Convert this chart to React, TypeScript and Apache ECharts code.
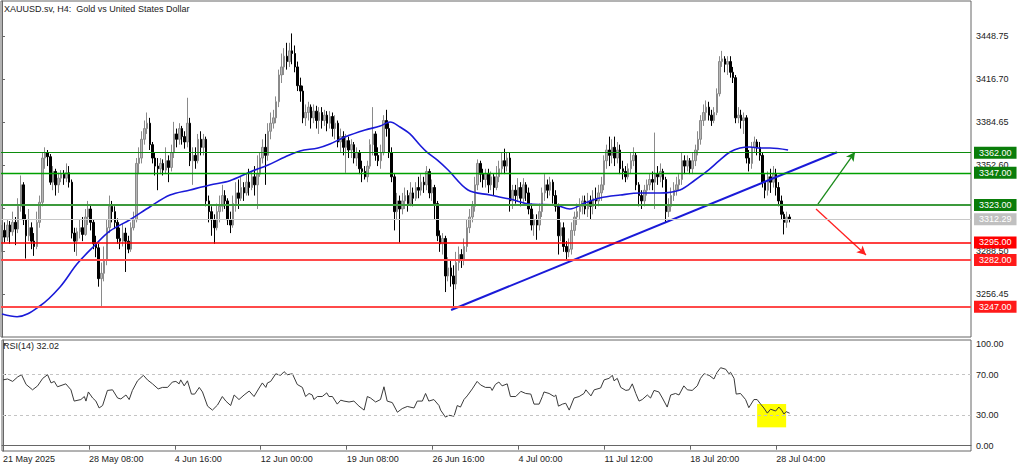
import React, { useEffect, useRef } from 'react';
import * as echarts from 'echarts';

// [open, close, low, high] per H4 bar, bar index = position
const ohlc: number[][] = [
[3300,3304,3288,3308],[3304,3299,3295,3310],[3299,3308,3296,3312],[3308,3303,3294,3311],[3303,3310,3300,3318],[3310,3305,3293,3314],[3305,3322,3302,3328],[3322,3338,3318,3345],
[3338,3312,3308,3340],[3312,3300,3283,3316],[3300,3306,3296,3320],[3306,3296,3290,3310],[3296,3292,3285,3302],[3292,3310,3290,3318],[3310,3325,3306,3330],[3325,3358,3322,3362],
[3358,3362,3350,3366],[3362,3359,3352,3364],[3359,3340,3338,3361],[3340,3348,3334,3352],[3348,3338,3330,3350],[3338,3343,3332,3347],[3343,3346,3340,3349],[3346,3343,3338,3349],
[3343,3347,3340,3354],[3347,3340,3336,3352],[3340,3302,3298,3342],[3302,3296,3288,3306],[3296,3303,3285,3306],[3303,3306,3298,3312],[3306,3301,3296,3314],[3301,3314,3300,3320],
[3314,3320,3308,3326],[3320,3310,3304,3323],[3310,3294,3290,3312],[3294,3291,3284,3300],[3291,3268,3262,3294],[3268,3272,3247,3280],[3272,3282,3266,3292],[3282,3306,3278,3312],
[3306,3322,3302,3330],[3322,3318,3310,3326],[3318,3310,3305,3322],[3310,3298,3294,3313],[3298,3296,3290,3306],[3296,3302,3292,3309],[3302,3296,3273,3306],[3296,3290,3287,3300],
[3290,3306,3288,3310],[3306,3312,3304,3318],[3312,3354,3310,3358],[3354,3358,3346,3366],[3358,3372,3354,3378],[3372,3380,3368,3386],[3380,3384,3376,3392],[3384,3368,3364,3388],
[3368,3358,3354,3370],[3358,3352,3345,3362],[3352,3350,3334,3358],[3350,3354,3346,3358],[3354,3349,3345,3357],[3349,3356,3346,3366],[3356,3351,3340,3360],[3351,3362,3348,3368],
[3362,3376,3358,3385],[3376,3372,3366,3380],[3372,3380,3368,3384],[3380,3374,3368,3382],[3374,3370,3365,3378],[3370,3384,3366,3403],[3384,3356,3352,3388],[3356,3360,3338,3366],
[3360,3356,3350,3366],[3356,3372,3354,3376],[3372,3366,3360,3378],[3366,3372,3360,3376],[3372,3326,3322,3374],[3326,3318,3310,3330],[3318,3312,3300,3322],[3312,3306,3294,3316],
[3306,3318,3304,3324],[3318,3322,3310,3330],[3322,3330,3318,3338],[3330,3326,3320,3334],[3326,3312,3308,3328],[3312,3308,3302,3318],[3308,3324,3306,3330],[3324,3332,3318,3340],
[3332,3328,3320,3342],[3328,3336,3326,3344],[3336,3332,3326,3340],[3332,3340,3330,3346],[3340,3336,3330,3350],[3336,3344,3334,3348],[3344,3338,3330,3352],[3338,3346,3320,3360],
[3346,3358,3344,3362],[3358,3366,3354,3372],[3366,3360,3338,3376],[3360,3378,3356,3384],[3378,3384,3372,3392],[3384,3388,3380,3394],[3388,3400,3384,3404],[3400,3420,3396,3424],
[3420,3426,3414,3436],[3426,3434,3420,3440],[3434,3430,3424,3444],[3430,3438,3426,3444],[3438,3436,3428,3451],[3436,3426,3422,3442],[3426,3412,3408,3430],[3412,3408,3400,3418],
[3408,3388,3384,3412],[3388,3392,3382,3398],[3392,3396,3386,3400],[3396,3388,3380,3398],[3388,3393,3384,3398],[3393,3386,3380,3397],[3386,3392,3376,3396],[3392,3386,3380,3396],
[3386,3390,3382,3394],[3390,3384,3378,3393],[3384,3389,3380,3393],[3389,3380,3374,3392],[3380,3384,3372,3390],[3384,3370,3366,3386],[3370,3374,3362,3380],[3374,3366,3360,3378],
[3366,3371,3347,3376],[3371,3364,3358,3374],[3364,3368,3358,3372],[3368,3358,3354,3370],[3358,3362,3352,3366],[3362,3350,3346,3364],[3350,3348,3340,3356],[3348,3344,3342,3352],
[3344,3352,3340,3356],[3352,3368,3350,3372],[3368,3376,3360,3396],[3376,3360,3356,3378],[3360,3356,3352,3366],[3356,3362,3350,3368],[3362,3386,3360,3390],[3386,3380,3374,3394],
[3380,3362,3358,3384],[3362,3344,3340,3366],[3344,3318,3304,3346],[3318,3326,3312,3332],[3326,3320,3295,3330],[3320,3326,3316,3332],[3326,3330,3320,3336],[3330,3324,3318,3334],
[3324,3332,3322,3340],[3332,3328,3322,3336],[3328,3336,3326,3340],[3336,3334,3328,3344],[3334,3340,3330,3346],[3340,3338,3332,3344],[3338,3348,3334,3352],[3348,3332,3328,3350],
[3332,3336,3326,3342],[3336,3324,3312,3338],[3324,3300,3296,3326],[3300,3294,3288,3304],[3294,3298,3286,3302],[3298,3270,3258,3300],[3270,3276,3266,3284],[3276,3270,3262,3282],
[3270,3264,3246,3278],[3264,3280,3260,3288],[3280,3286,3274,3292],[3286,3282,3276,3290],[3282,3292,3278,3298],[3292,3306,3288,3312],[3306,3314,3302,3320],[3314,3322,3310,3326],
[3322,3338,3318,3344],[3338,3354,3334,3357],[3354,3346,3340,3356],[3346,3342,3336,3350],[3342,3346,3336,3350],[3346,3338,3332,3350],[3338,3344,3334,3348],[3344,3336,3330,3346],
[3336,3344,3334,3352],[3344,3350,3340,3356],[3350,3356,3346,3362],[3356,3352,3346,3365],[3352,3358,3348,3362],[3358,3326,3318,3362],[3326,3334,3320,3338],[3334,3330,3324,3338],
[3330,3336,3326,3343],[3336,3328,3322,3340],[3328,3338,3324,3343],[3338,3332,3326,3340],[3332,3320,3316,3336],[3320,3308,3304,3324],[3308,3312,3300,3316],[3312,3308,3297,3316],
[3308,3318,3304,3324],[3318,3332,3314,3336],[3332,3338,3326,3346],[3338,3334,3328,3342],[3334,3340,3330,3344],[3340,3330,3324,3342],[3330,3322,3318,3334],[3322,3300,3286,3324],
[3300,3306,3296,3310],[3306,3292,3288,3310],[3292,3288,3282,3296],[3288,3290,3284,3298],[3290,3304,3286,3310],[3304,3314,3300,3318],[3314,3318,3308,3324],[3318,3322,3312,3328],
[3322,3326,3316,3330],[3326,3320,3316,3330],[3320,3326,3314,3332],[3326,3322,3312,3330],[3322,3328,3316,3334],[3328,3326,3320,3336],[3326,3332,3322,3338],[3332,3338,3326,3344],
[3338,3356,3334,3360],[3356,3364,3350,3368],[3364,3360,3352,3374],[3360,3366,3354,3372],[3366,3358,3352,3374],[3358,3364,3354,3370],[3364,3350,3346,3368],[3350,3348,3342,3356],
[3348,3344,3340,3352],[3344,3350,3342,3354],[3350,3356,3346,3362],[3356,3360,3352,3366],[3360,3338,3334,3362],[3338,3330,3322,3340],[3330,3326,3320,3334],[3326,3334,3322,3338],
[3334,3338,3330,3342],[3338,3342,3334,3346],[3342,3340,3334,3348],[3340,3346,3320,3377],[3346,3344,3338,3352],[3344,3348,3340,3354],[3348,3342,3336,3350],[3342,3318,3310,3344],
[3318,3322,3314,3328],[3322,3330,3318,3336],[3330,3334,3326,3340],[3334,3338,3330,3344],[3338,3342,3334,3346],[3342,3356,3338,3362],[3356,3352,3346,3360],[3352,3356,3348,3360],
[3356,3350,3346,3358],[3350,3356,3346,3362],[3356,3364,3352,3368],[3364,3372,3360,3378],[3372,3386,3368,3390],[3386,3392,3382,3398],[3392,3396,3386,3401],[3396,3390,3386,3400],
[3390,3386,3382,3394],[3386,3392,3384,3396],[3392,3406,3390,3410],[3406,3430,3404,3434],[3430,3432,3426,3438],[3432,3428,3422,3434],[3428,3430,3420,3434],[3430,3422,3418,3434],
[3422,3418,3414,3426],[3418,3388,3384,3420],[3388,3390,3384,3396],[3390,3386,3380,3394],[3386,3388,3376,3392],[3388,3358,3354,3390],[3358,3354,3348,3364],[3354,3366,3350,3370],
[3366,3370,3362,3374],[3370,3366,3360,3372],[3366,3360,3356,3370],[3360,3340,3336,3362],[3340,3334,3328,3346],[3334,3344,3330,3348],[3344,3340,3332,3350],[3340,3346,3336,3352],
[3346,3336,3330,3350],[3336,3326,3322,3340],[3326,3316,3312,3330],[3316,3310,3301,3318],[3310,3314,3306,3318],[3314,3312.29,3310,3316]
];

// moving average read at points: [bar index, price]
const maPoints: number[][] = [
[0,3241.6],[5.6,3239.6],[14.1,3247.6],[21.6,3261.8],[27.9,3278.9],[33.9,3291.6],[40.2,3303.6],[47.6,3312],
[55.1,3321.7],[62.5,3330.4],[70,3334.2],[77.4,3337.9],[84.8,3341.1],[92.3,3347.6],[99,3352.8],[105.3,3358.8],
[110.9,3363.3],[117.6,3365.5],[122,3368.5],[127.6,3373.7],[135.1,3378.9],[140.7,3381.9],[144.4,3384.9],[148.1,3381.2],
[151.8,3376],[155.5,3367.7],[158.1,3362.5],[161.9,3356.6],[166,3349.1],[173.4,3334.2],[181.6,3330.4],[189,3327.4],
[196.5,3323.7],[205.8,3323],[211.3,3320],[216.9,3324.5],[222.5,3328.2],[230,3330.4],[237.4,3331.9],[244.8,3331.9],
[252.3,3334.2],[257.9,3341.6],[262,3347.6],[267.2,3356.6],[270.9,3362.5],[274.6,3365.5],[278.3,3366.3],[282,3365.5],
[285.8,3365.5],[292.5,3364]
];

// RSI(14) read at points: [bar index, value]
const rsiPoints: number[][] = [
[0,64.9],[1.7,65.8],[3.6,63.4],[5.5,67.9],[6.9,70],[8.6,60.4],[11,55.1],[12.9,59],[14.8,66.4],[16.6,70],[17.9,61.9],[19.1,63.4],
[20.3,58.1],[23.4,61],[25.3,55.1],[26.5,44],[29,45.5],[30.3,48.5],[30.9,44],[31.8,53],[33.4,47],[34.6,44],[35.8,37.2],[37.1,39.6],
[38.9,54.5],[40.8,55.1],[42.7,47],[43.9,46.1],[45.8,50],[47,45.5],[48.2,54.5],[50.1,64],[52.3,69.4],[53.8,64.9],[55.7,61],[57.8,56],
[59.4,57.5],[61.3,57.5],[63.1,62.8],[64.4,63.4],[65.6,61],[66.2,64.9],[67.5,59],[68.7,64],[70.2,50.9],[71.4,50.9],[73.1,57.5],[74.3,53],
[76.2,39],[78,35.1],[79.9,40.1],[81.7,48.5],[83,44],[84.8,39.6],[86.1,50],[87.9,45.5],[89.8,50],[91.7,53.9],[93.5,48.5],[95.4,56.9],
[96.6,61.9],[97.9,57.5],[98.5,61.9],[99.7,63.4],[101.6,70.9],[103.4,69.4],[104.7,73],[105.9,70],[107.8,70.9],[109.6,60.4],[111.5,57.5],[112.7,48.5],
[114,51.5],[115.2,50],[115.8,45.5],[117.1,48.5],[118.9,48.5],[120.6,52.1],[121.4,48.5],[122.7,48.5],[124.5,41],[125.8,44.9],[127,44],[128.9,43.1],
[130.7,44],[132.6,39],[134.5,35.1],[135.7,48.5],[136.9,47],[138.8,43.1],[140.6,45.5],[141.9,58.1],[143.1,44],[145,42.5],[146.9,33],[148.7,36.6],
[150.6,38.7],[153.1,37.2],[154.3,44],[156.2,44],[157.4,51.5],[158.6,44],[160.5,45.5],[162.4,39.6],[163,35.1],[164.8,28.2],[166.1,30],[168,29.1],
[169.2,39.6],[170.4,38.1],[171.7,45.5],[172.9,49.1],[174.8,56],[176.6,63.4],[177.9,59.9],[179.7,57.5],[181.6,57.5],[182.2,54.5],[183.4,60.4],[184.7,62.8],
[185.9,59],[187.8,61],[189,48.5],[191,48.5],[192.9,53.6],[194.7,51.5],[196.6,50.9],[197.8,41],[199.7,41],[200.9,48.5],[201.5,53],[203.4,51.5],
[205.3,48.5],[205.9,50],[206.9,39],[208.4,41],[209.6,41.9],[210.9,35.1],[212.7,47],[214.6,48.5],[216.4,51.5],[217.1,55.1],[219,49.1],[220.2,55.1],
[222.6,56.9],[223.9,64.9],[225.7,66.4],[227,69.4],[227.6,64],[228.8,66.4],[230.1,57.5],[232,54.5],[233.2,55.1],[234.4,61],[235.7,51.5],[236.9,44],
[238.1,45.5],[240,50],[241.2,47],[242.5,54.5],[244.3,53],[245.6,47],[247.4,38.1],[248.7,50],[250.5,51.5],[251.8,50],[253.6,59],[254.9,55.1],
[256.7,54.5],[258.6,59],[259.8,66.4],[261.1,70.9],[263,69.4],[264.8,65.8],[266,72.4],[267.3,76.9],[269.2,75.4],[270.4,70.9],[271,72.4],[272.3,66.4],
[273.1,50.9],[274.7,51.5],[276.6,45.5],[277.8,37.5],[279.7,45.5],[280.9,45.5],[282.2,41],[283.4,37.2],[284.7,32.1],[285.9,36],[287.8,34.2],[289,38.1],
[290,35.1],[290.9,31.2],[291.7,33.6],[293,32.02]
];

const resistanceLevels = [3362, 3347, 3323];
const supportLevels = [3295, 3282, 3247];
const lastPrice = 3312.29;
const priceTicks = [3256.45, 3288.5, 3320.55, 3352.6, 3384.65, 3416.7, 3448.75];
const rsiTicks = [0, 30, 70, 100];
const rsiLevels = [30, 70];
const rsiLast = 32.02;
const timeTickBars = [0, 32, 64, 96, 128, 160, 192, 224, 256, 288];
const timeTickLabels = ['21 May 2025', '28 May 08:00', '4 Jun 16:00', '12 Jun 00:00', '19 Jun 08:00', '26 Jun 16:00', '4 Jul 00:00', '11 Jul 12:00', '18 Jul 20:00', '28 Jul 04:00'];
const trendline = [[167.1, 3244.6], [310.7, 3362.3]];
const upArrow = [[303.6, 3323.7], [317.4, 3362.5]];
const downArrow = [[302.9, 3320.0], [321.5, 3285.7]];
const rsiHighlight = [[280.9, 41.1], [291.7, 18.1]];

const FONT = 'Liberation Sans';
const FS = 9;

function levelLine(v: number, color: string, width: number, box: string) {
  return {
    yAxis: v,
    lineStyle: { color, width, type: 'solid', opacity: 1 },
    label: {
      show: true,
      position: 'end',
      distance: 3,
      formatter: () => v.toFixed(2),
      color: '#fff',
      backgroundColor: box,
      padding: [2, 5, 1, 5],
      fontSize: FS,
      fontFamily: FONT,
    },
  };
}

export default function App() {
  const ref = useRef<HTMLDivElement>(null);
  useEffect(() => {
    if (!ref.current) return;
    const chart = echarts.init(ref.current, null, { renderer: 'svg' });
    const xMin = -0.372;
    const xMax = 360.56;
    const candleData = ohlc.map((d, i) => [i, d[0], d[1], d[2], d[3]]);
    const levels = [
      levelLine(resistanceLevels[0], '#0c8c0c', 1, '#0a7d0a'),
      levelLine(resistanceLevels[1], '#00a000', 1.4, '#0a7d0a'),
      levelLine(resistanceLevels[2], '#3c9a3c', 2, '#0a7d0a'),
      levelLine(lastPrice, '#c8c8c8', 1, '#c0c0c0'),
      levelLine(supportLevels[0], '#ff0000', 1.5, '#ff0000'),
      levelLine(supportLevels[1], '#ff4a4a', 2, '#ff1a1a'),
      levelLine(supportLevels[2], '#ff4a4a', 2, '#ff1a1a'),
    ];
    const option: any = {
      animation: false,
      backgroundColor: '#ffffff',
      title: [
        {
          text: 'XAUUSD.sv, H4:  Gold vs United States Dollar',
          left: 4, top: 4, padding: 0,
          textStyle: { fontSize: FS, fontWeight: 'normal', color: '#222', fontFamily: FONT },
        },
        {
          text: 'RSI(14) ' + rsiLast.toFixed(2),
          left: 3, top: 341, padding: 0,
          textStyle: { fontSize: FS, fontWeight: 'normal', color: '#222', fontFamily: FONT },
        },
      ],
      grid: [
        { left: 1, right: 53, top: 1, height: 336, show: true, borderColor: '#666', borderWidth: 1, backgroundColor: 'transparent' },
        { left: 1, right: 53, top: 340, height: 111, show: true, borderColor: '#666', borderWidth: 1, backgroundColor: 'transparent' },
      ],
      xAxis: [
        {
          type: 'value', gridIndex: 0, min: xMin, max: xMax,
          axisLine: { show: false }, axisTick: { show: false }, axisLabel: { show: false }, splitLine: { show: false },
        },
        {
          type: 'value', gridIndex: 1, min: xMin, max: xMax,
          axisLine: { show: true, lineStyle: { color: '#666' } },
          axisTick: { show: true, customValues: timeTickBars, length: 4, lineStyle: { color: '#666' } },
          axisLabel: {
            show: true,
            customValues: timeTickBars,
            formatter: (v: number) => {
              const k = timeTickBars.indexOf(Math.round(v));
              return k >= 0 ? timeTickLabels[k] : '';
            },
            align: 'left',
            margin: 3,
            color: '#222', fontSize: FS, fontFamily: FONT,
          },
          splitLine: { show: false },
        },
      ],
      yAxis: [
        {
          type: 'value', gridIndex: 0, position: 'right', min: 3224.46, max: 3475.2, scale: true,
          axisLine: { show: true, lineStyle: { color: '#666' } },
          axisTick: { show: true, customValues: priceTicks, length: 3, lineStyle: { color: '#666' } },
          axisLabel: {
            show: true, customValues: priceTicks, margin: 5,
            formatter: (v: number) => v.toFixed(2),
            color: '#222', fontSize: FS, fontFamily: FONT,
          },
          splitLine: { show: false },
        },
        {
          type: 'value', gridIndex: 1, position: 'right', min: -5.23, max: 104.24,
          axisLine: { show: true, lineStyle: { color: '#666' } },
          axisTick: { show: true, customValues: rsiTicks, length: 3, lineStyle: { color: '#666' } },
          axisLabel: {
            show: true, customValues: rsiTicks, margin: 5,
            formatter: (v: number) => v.toFixed(2),
            color: '#222', fontSize: FS, fontFamily: FONT,
          },
          splitLine: { show: false },
        },
      ],
      series: [
        {
          type: 'candlestick',
          xAxisIndex: 0, yAxisIndex: 0,
          data: candleData,
          encode: { x: 0, y: [1, 2, 3, 4] },
          barWidth: 2,
          itemStyle: {
            color: '#b8b8b8', borderColor: '#8a8a8a',
            color0: '#000000', borderColor0: '#000000',
            borderWidth: 1,
          },
          z: 2,
        },
        {
          type: 'line',
          xAxisIndex: 0, yAxisIndex: 0,
          data: maPoints,
          showSymbol: false,
          smooth: 0.35,
          lineStyle: { color: '#1a1ad8', width: 1.6 },
          z: 4,
          markLine: {
            silent: true,
            symbol: ['none', 'none'],
            label: { show: false },
            data: [
              [
                { coord: trendline[0], lineStyle: { color: '#1a1ad8', width: 2, type: 'solid' } },
                { coord: trendline[1] },
              ],
              [
                { coord: upArrow[0], symbol: 'none', lineStyle: { color: '#1a8a1a', width: 1.3, type: 'solid' } },
                { coord: upArrow[1], symbol: 'arrow', symbolSize: [7, 9] },
              ],
              [
                { coord: downArrow[0], symbol: 'none', lineStyle: { color: '#ff2020', width: 1.3, type: 'solid' } },
                { coord: downArrow[1], symbol: 'arrow', symbolSize: [7, 9] },
              ],
            ],
          },
        },
        {
          type: 'line',
          xAxisIndex: 0, yAxisIndex: 0,
          data: [],
          showSymbol: false,
          silent: true,
          z: 3,
          markLine: {
            silent: true,
            symbol: ['none', 'none'],
            data: levels,
          },
        },
        {
          type: 'line',
          xAxisIndex: 1, yAxisIndex: 1,
          data: rsiPoints,
          showSymbol: false,
          lineStyle: { color: '#3a3a3a', width: 1 },
          z: 4,
          markLine: {
            silent: true,
            symbol: ['none', 'none'],
            label: { show: false },
            lineStyle: { color: '#c4c4c4', width: 1, type: [3, 3] },
            data: rsiLevels.map((v) => ({ yAxis: v })),
          },
          markArea: {
            silent: true,
            itemStyle: { color: '#ffff00', opacity: 1 },
            data: [[{ coord: rsiHighlight[0] }, { coord: rsiHighlight[1] }]],
          },
        },
      ],
    };
    chart.setOption(option);
    return () => chart.dispose();
  }, []);
  return (
    <div
      ref={ref}
      style={{ position: 'fixed', left: 0, top: 0, width: 1024, height: 469, background: '#fff' }}
    />
  );
}
